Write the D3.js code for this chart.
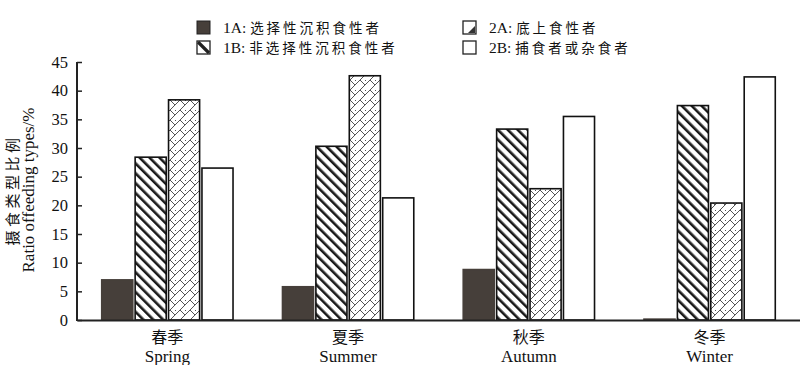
<!DOCTYPE html>
<html><head><meta charset="utf-8">
<script src="https://cdnjs.cloudflare.com/ajax/libs/d3/7.8.5/d3.min.js"></script>
<style>
body{margin:0;background:#fff;}
text{font-family:"Liberation Serif","Noto Sans CJK SC",serif;fill:#111;}
.cjk{font-family:"Noto Sans CJK SC",sans-serif;}
</style></head>
<body><svg id="c" width="800" height="365"></svg>
<script>
const seasonsZh = ["春季","夏季","秋季","冬季"];
const seasonsEn = ["Spring","Summer","Autumn","Winter"];
const groups = ["1A","1B","2A","2B"];
const groupCodes = ["1A:","1B:","2A:","2B:"];
const groupNames = ["选择性沉积食性者","非选择性沉积食性者","底上食性者","捕食者或杂食者"];
const vals1A = [7.0, 5.8, 8.8, 0.15];
const vals1B = [28.4, 30.3, 33.3, 37.4];
const vals2A = [38.4, 42.6, 22.9, 20.4];
const vals2B = [26.5, 21.3, 35.5, 42.4];
const yTicks = [0,5,10,15,20,25,30,35,40,45];

const series = [vals1A, vals1B, vals2A, vals2B];
const svg = d3.select("#c");
const defs = svg.append("defs");

// diagonal stripes pattern (1B), "\" direction
const p1 = defs.append("pattern").attr("id","stripes").attr("patternUnits","userSpaceOnUse")
  .attr("width",7).attr("height",7).attr("patternTransform","rotate(-45)");
p1.append("rect").attr("width",7).attr("height",7).attr("fill","#fff");
p1.append("rect").attr("x",0).attr("width",2.6).attr("height",7).attr("fill","#1a1a1a");

// lattice pattern (2A)
const p2 = defs.append("pattern").attr("id","lattice").attr("patternUnits","userSpaceOnUse")
  .attr("width",10).attr("height",10);
p2.append("rect").attr("width",10).attr("height",10).attr("fill","#fff");
p2.append("path").attr("d","M0,10 L10,0 M-5,5 L5,-5 M5,15 L15,5 M0,0 L5,5 M5,10 L10,15 M5,0 L6,1")
  .attr("stroke","#555").attr("stroke-width",1).attr("fill","none");

const fills = ["#463f3a","url(#stripes)","url(#lattice)","#fff"];

const mLeft = 77, mRight = 800, mTop = 62, mBottom = 320;
const y = d3.scaleLinear().domain([0,45]).range([mBottom, mTop]);
const x0 = d3.scaleBand().domain(seasonsZh).range([mLeft, mRight]).padding(0);
const x1 = d3.scaleBand().domain(groups).range([0, x0.bandwidth()]).paddingInner(0.07).paddingOuter(0.74);

// bars
const g = svg.append("g");
seasonsZh.forEach((s, i) => {
  groups.forEach((k, j) => {
    const v = series[j][i];
    g.append("rect")
      .attr("x", x0(s) + x1(k))
      .attr("y", y(v))
      .attr("width", x1.bandwidth())
      .attr("height", y(0) - y(v))
      .attr("fill", fills[j])
      .attr("stroke", j === 0 ? "#463f3a" : "#111")
      .attr("stroke-width", 1.6);
  });
});

// y axis
const yAxis = d3.axisLeft(y).tickValues(yTicks).tickSize(-5).tickPadding(9).tickFormat(d3.format("d"));
const ya = svg.append("g").attr("transform", `translate(${mLeft},0)`).call(yAxis);
ya.select(".domain").remove();
ya.selectAll(".tick line").attr("stroke","#222").attr("stroke-width",1.5);
ya.selectAll(".tick text").attr("font-size",16.5).attr("font-family","Liberation Serif").attr("fill","#111");
svg.append("line").attr("x1",mLeft).attr("x2",mLeft).attr("y1",mTop).attr("y2",mBottom+1)
  .attr("stroke","#222").attr("stroke-width",2);

// x axis
const xAxis = d3.axisBottom(x0).tickSize(0).tickFormat(() => "");
const xa = svg.append("g").attr("transform", `translate(0,${mBottom})`).call(xAxis);
xa.select(".domain").attr("stroke","#222").attr("stroke-width",2);
seasonsZh.forEach((s, i) => {
  const cx = x0(s) + x0.bandwidth()/2;
  svg.append("text").attr("class","cjk").attr("x",cx).attr("y",343).attr("text-anchor","middle")
    .attr("font-size",16).text(s);
  svg.append("text").attr("x",cx).attr("y",362).attr("text-anchor","middle")
    .attr("font-size",17).text(seasonsEn[i]);
});

// y title
const yt = svg.append("g").attr("transform","translate(0,190) rotate(-90)");
yt.append("text").attr("class","cjk").attr("x",0).attr("y",18).attr("text-anchor","middle")
  .attr("font-size",15).attr("letter-spacing",3.5).text("摄食类型比例");
yt.append("text").attr("x",0).attr("y",34).attr("text-anchor","middle")
  .attr("font-size",17).text("Ratio offeeding types/%");

// legend
const legPos = [[197,21],[197,41],[463,21],[463,41]];
const leg = svg.append("g");
groups.forEach((k, j) => {
  const [lx, ly] = legPos[j];
  const it = leg.append("g").attr("transform", `translate(${lx},${ly})`);
  if (j === 0) {
    it.append("rect").attr("width",13).attr("height",13).attr("fill","#463f3a").attr("stroke","#222").attr("stroke-width",1);
  } else if (j === 1) {
    it.append("rect").attr("width",13).attr("height",13).attr("fill","#fff").attr("stroke","#222").attr("stroke-width",1.3);
    it.append("path").attr("d","M1,1 L12,12").attr("stroke","#222").attr("stroke-width",3.2);
  } else if (j === 2) {
    it.append("rect").attr("width",13).attr("height",13).attr("fill","#fff").attr("stroke","#222").attr("stroke-width",1.3);
    it.append("path").attr("d","M12,5 L12,12 L5,12 Z").attr("fill","#333");
  } else {
    it.append("rect").attr("width",13).attr("height",13).attr("fill","#fff").attr("stroke","#222").attr("stroke-width",1.3);
  }
  const t = it.append("text").attr("x",26).attr("y",12);
  t.append("tspan").attr("font-family","Liberation Serif").attr("font-size",15.5).text(groupCodes[j] + " ");
  t.append("tspan").attr("class","cjk").attr("font-size",13.5).attr("letter-spacing",3).text(groupNames[j]);
});
</script></body></html>
